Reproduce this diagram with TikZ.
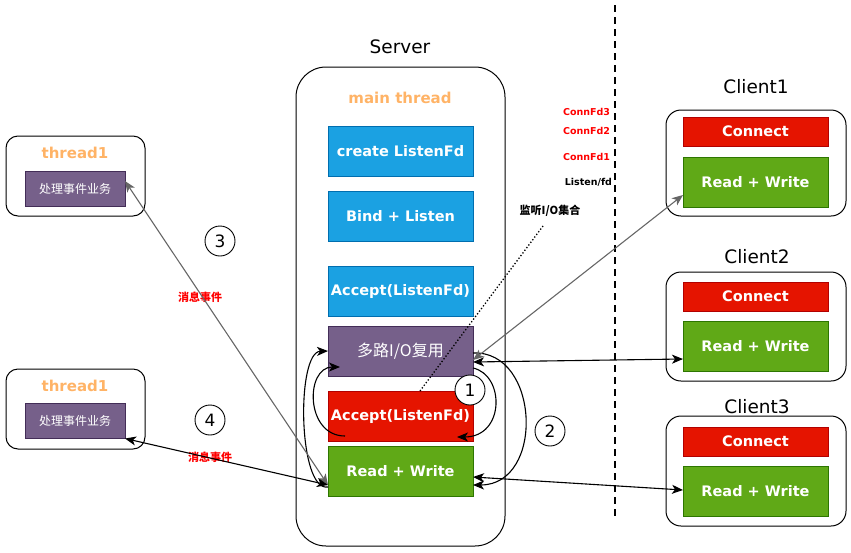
\documentclass[tikz,border=0pt]{standalone}
\usepackage{fontspec}
\setmainfont{DejaVu Sans}
\newfontfamily\cjk{Noto Sans CJK SC}
\usetikzlibrary{arrows.meta}

\definecolor{boxblue}{HTML}{1BA1E2}
\definecolor{boxblueline}{HTML}{006EAF}
\definecolor{boxpurple}{HTML}{76608A}
\definecolor{boxpurpleline}{HTML}{432D57}
\definecolor{boxred}{HTML}{E51400}
\definecolor{boxredline}{HTML}{B20000}
\definecolor{boxgreen}{HTML}{60A917}
\definecolor{boxgreenline}{HTML}{2D7600}
\definecolor{threadorange}{HTML}{FFB366}
\definecolor{linkgray}{HTML}{666666}

\newcommand{\fsize}[1]{\fontsize{#1}{#1}\selectfont}

\begin{document}
\begin{tikzpicture}[x = 1pt, y = -1pt,
            every node/.style = {inner sep = 0pt, outer sep = 0pt},
            frame/.style = {draw, line width = 1pt, rounded corners = #1},
            block/.style = {line width = 1pt, minimum width = 145pt, minimum height = 50pt,
                            text = white, font = \fsize{14.5}\bfseries},
            connbox/.style = {block, minimum height = 29pt, fill = boxred, draw = boxredline},
            biz/.style = {line width = 1pt, minimum width = 100pt, minimum height = 35pt,
                          fill = boxpurple, draw = boxpurpleline, text = white, font = \cjk\fsize{12}},
            title/.style = {font = \fsize{18.5}},
            orangelbl/.style = {text = threadorange, font = \fsize{15}\bfseries},
            fdlbl/.style = {anchor = east, font = \fsize{9.5}\bfseries},
            msg/.style = {text = red, font = \cjk\fsize{11}\bfseries},
            num/.style = {draw, circle, fill = white, line width = 0.9pt, minimum size = 30pt, font = \fsize{17}},
            link/.style = {{Stealth[length = 11pt, width = 9pt, inset = 3pt]}-{Stealth[length = 11pt, width = 9pt, inset = 3pt]}, line width = 1.1pt},
            flow/.style = {-{Stealth[length = 11pt, width = 9pt, inset = 3pt]}, line width = 1.1pt}]
    \useasboundingbox (0,0) rectangle (851,552);

    % server side
    \node[title] (srvlbl) at (400,47) {Server};
    \node[frame = 30pt, minimum width = 209pt, minimum height = 479pt] (server) at (400.5,306.5) {};
    \node[orangelbl] (mainlbl) at (400,98) {main thread};
    \node[block, fill = boxblue, draw = boxblueline] (create) at (400.5,151.5) {create ListenFd};
    \node[block, fill = boxblue, draw = boxblueline] (bind) at (400.5,216) {Bind + Listen};
    \node[block, fill = boxblue, draw = boxblueline] (acc1) at (400.5,291) {Accept(ListenFd)};
    \node[block, fill = boxpurple, draw = boxpurpleline, font = \cjk\fsize{16}] (mux) at (400.5,351) {多路I/O复用};
    \node[block, fill = boxred, draw = boxredline] (acc2) at (400.5,416) {Accept(ListenFd)};
    \node[block, fill = boxgreen, draw = boxgreenline] (rw) at (400.5,471) {Read + Write};

    % worker threads
    \node[frame = 12pt, minimum width = 139pt, minimum height = 80pt] (thrA) at (75.5,176) {};
    \node[orangelbl] (thrAlbl) at (75,153) {thread1};
    \node[biz] (bizA) at (75,188.5) {处理事件业务};
    \node[frame = 12pt, minimum width = 139pt, minimum height = 80pt] (thrB) at (75.5,409) {};
    \node[orangelbl] (thrBlbl) at (75,386) {thread1};
    \node[biz] (bizB) at (75,421) {处理事件业务};

    % clients
    \node[title] (c1lbl) at (756,87) {Client1};
    \node[frame = 15pt, minimum width = 180pt, minimum height = 106pt] (c1) at (756,163) {};
    \node[connbox] (c1con) at (755.5,131.5) {Connect};
    \node[block, fill = boxgreen, draw = boxgreenline] (c1rw) at (755.5,182) {Read + Write};
    \node[title] (c2lbl) at (757,257) {Client2};
    \node[frame = 15pt, minimum width = 180pt, minimum height = 109pt] (c2) at (756,326.5) {};
    \node[connbox] (c2con) at (755.5,296.5) {Connect};
    \node[block, fill = boxgreen, draw = boxgreenline] (c2rw) at (755.5,346.5) {Read + Write};
    \node[title] (c3lbl) at (757,407) {Client3};
    \node[frame = 15pt, minimum width = 180pt, minimum height = 110pt] (c3) at (756,471) {};
    \node[connbox] (c3con) at (755.5,441.5) {Connect};
    \node[block, fill = boxgreen, draw = boxgreenline] (c3rw) at (755.5,491) {Read + Write};

    % fd set labels
    \node[fdlbl, text = red] (fd3) at (610,112) {ConnFd3};
    \node[fdlbl, text = red] (fd2) at (610,131) {ConnFd2};
    \node[fdlbl, text = red] (fd1) at (610,157) {ConnFd1};
    \node[fdlbl] (listenfd) at (612,182) {Listen/fd};
    \node[font = \cjk\fsize{11}\bfseries] (setlbl) at (550,211) {监听I/O集合};
    \node[msg] (msgA) at (200,297) {消息事件};
    \node[msg] (msgB) at (210,457) {消息事件};

    % divider
    \coordinate (divtop) at (615,5);
    \coordinate (divbot) at (615,518);
    \draw[line width = 2pt, dash pattern = on 7pt off 5pt] (divtop) -- (divbot);

    % loops inside the server
    \coordinate (setend) at (543,226);
    \draw[dotted, line width = 1.3pt] ([xshift = 19.5pt]acc2.north) -- (setend);
    \draw[flow] ([yshift = 8pt]mux.south east) .. controls (505,375) and (505,437) .. ([xshift = -16pt, yshift = 4pt]acc2.south east);
    \draw[flow] ([xshift = 17pt, yshift = 5pt]acc2.south west) .. controls (305,436) and (305,367) .. ([xshift = 12pt, yshift = -16pt]mux.west);
    \draw[flow] ([yshift = -2pt]mux.east) .. controls (540,350) and (545,485) .. ([yshift = -14pt]rw.east);
    \draw[flow] ([yshift = -16pt]rw.west) .. controls (298,492) and (296,352) .. (mux.west);

    % connections
    \draw[link, linkgray] ([yshift = -9pt]mux.east) -- ([yshift = -13pt]c1rw.west);
    \draw[link] ([yshift = -11pt]mux.east) -- ([yshift = -12.5pt]c2rw.west);
    \draw[link] ([yshift = -6pt]rw.east) -- ([yshift = 1pt]c3rw.west);
    \draw[link, linkgray] ([yshift = 7.5pt]bizA.east) -- ([yshift = -14pt]rw.west);
    \draw[link] (bizB.south east) -- ([yshift = -14pt]rw.west);

    \node[num] (one) at (470,390) {1};
    \node[num] (two) at (550,431) {2};
    \node[num] (three) at (220,241) {3};
    \node[num] (four) at (210,420) {4};
\end{tikzpicture}
\end{document}
